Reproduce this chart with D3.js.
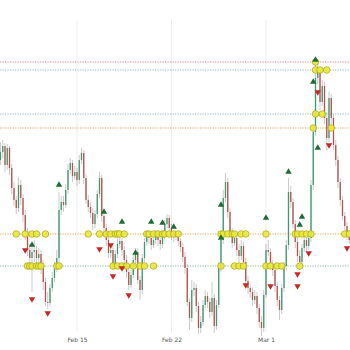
<!DOCTYPE html>
<html><head><meta charset="utf-8">
<script src="https://cdn.jsdelivr.net/npm/d3@7"></script>
<style>html,body{margin:0;padding:0;background:#fff;}svg{display:block;}</style>
</head><body>
<svg id="chart" width="350" height="350"></svg>
<script>
// ---- data ----
const barStart = new Date(2021, 1, 9, 8, 0);   // first 4h bar
const barHours = 4;
const openP = [240,248,254,235,252,232,212,200,192,215, 202,185,168,150,142,148,150,142,146,135,
  118,98,97,112,122,132,142,190,198,195, 210,230,237,224,228,220,240,247,222,200,
  193,187,176,186,206,222,184,172,160,147, 150,135,146,156,159,150,140,128,115,125,
  140,148,120,110,142,158,164,162,155,160, 167,160,156,164,176,182,172,164,163,164,
  159,153,143,132,98,82,110,112,94,72, 78,95,104,98,88,102,74,95,132,160,
  202,218,188,168,157,162,150,144,154,138, 119,112,108,100,104,92,78,72,105,150,
  148,136,130,114,100,90,112,134,155,208, 198,176,158,144,138,152,160,154,162,215,
  268,322,328,298,314,282,262,302,282,255, 240,218,200,184,174,164];
const highP = [258,260,257,256,254,236,218,204,223,220, 206,190,172,156,154,160,154,152,150,140,
  122,108,116,128,138,150,208,204,204,216, 236,242,240,234,232,245,252,250,226,205,
  198,192,190,210,228,225,186,176,164,156, 154,150,162,164,162,154,145,132,130,145,
  152,152,124,146,162,168,168,166,164,170, 170,164,168,180,186,185,176,168,168,167,
  162,157,148,136,102,120,118,116,98,84, 100,110,108,102,118,106,100,138,164,210,
  227,222,192,172,168,166,156,160,158,142, 124,116,112,110,108,96,84,110,156,160,
  152,140,134,118,104,116,138,160,222,214, 202,180,162,150,156,164,164,168,220,274,
  340,338,332,320,318,288,308,306,286,260, 244,222,204,188,178,170];
const lowP = [235,242,228,230,225,206,194,186,188,195, 178,160,144,134,108,138,132,136,126,110,
  94,91,94,108,118,128,138,185,188,192, 206,226,218,220,214,216,236,216,196,188,
  182,170,172,182,202,178,166,154,142,142, 130,132,142,152,144,134,122,110,112,122,
  136,116,100,106,138,154,156,150,152,156, 154,150,152,160,172,168,160,158,160,154,
  148,138,126,94,70,78,104,88,66,67, 74,92,92,82,84,67,70,92,128,156,
  198,182,162,152,154,144,138,140,132,114, 106,102,94,96,86,72,64,68,102,144,
  132,124,108,94,80,86,108,130,150,192, 172,152,138,130,134,148,148,150,158,210,
  264,316,290,294,276,250,258,276,250,234, 212,194,180,170,160,156];
const closeP = [248,254,235,252,232,212,200,192,215,202, 185,168,150,142,148,150,142,146,135,118,
  98,97,112,122,132,142,190,198,195,210, 230,237,224,228,220,240,247,222,200,193,
  187,176,186,206,222,184,172,160,147,150, 135,146,156,159,150,140,128,115,125,140,
  148,120,110,142,158,164,162,155,160,167, 160,156,164,176,182,172,164,163,164,159,
  153,143,132,98,82,110,112,94,72,78, 95,104,98,88,102,74,95,132,160,202,
  218,188,168,157,162,150,144,154,138,119, 112,108,100,104,92,78,72,105,150,148,
  136,130,114,100,90,112,134,155,208,198, 176,158,144,138,152,160,154,162,215,268,
  322,328,298,314,282,262,302,282,255,240, 218,200,184,174,164,160];

const levelPrices = [338, 330, 286, 272, 166, 134];
const levelColors = ["#e06666", "#6fa8dc", "#6fa8dc", "#e69138", "#e69138", "#6aa89a"];

// yellow level-touch circles: [bar index, price]
const touchBars = [140, 140,142,145, 140,143, 139,147,
  7,11,14,16,20,39,44,47,49,51,52,53,55,65,66,68,70,72,73,75,77,79,98,99,101,103,104,107,109,118,131,132,134,136,138,153,155,
  12,13,14,16,17,18,25,26,50,52,54,56,59,62,64,68,98,104,106,108,118,120,123,125,133];
const touchPrices = [338, 330,330,330, 286,286, 272,272,
  166,166,166,166,166,166,166,166,166,166,166,166,166,166,166,166,166,166,166,166,166,166,166,166,166,166,166,166,166,166,166,166,166,166,166,166,166,
  134,134,134,134,134,134,134,134,134,134,134,134,134,134,134,134,134,134,134,134,134,134,134,134,134];

const buyBars = [26,14,46,54,60,67,72,77,98,98,118,128,133,134,139,140,141];
const buyPrices = [215,155,188,178,147,178,177,173,195,162,182,228,175,183,318,340,252];
const sellBars = [11,14,21,44,49,50,54,57,109,120,132,132,137,141,146,154];
const sellPrices = [150,101,87,151,155,124,132,105,115,114,126,114,147,308,255,152];

const tickDates = [new Date(2021,1,15), new Date(2021,1,22), new Date(2021,2,1)];

// ---- chart ----
const W = 350, H = 350;
const svg = d3.select("#chart");
const x = d3.scaleTime()
  .domain([new Date(2021,1,9,7,7), new Date(2021,2,7,5,20)])
  .range([0, W]);
const y = d3.scaleLinear().domain([68, 380]).range([332, 20]);
const barTime = i => d3.timeHour.offset(barStart, barHours * i);

const bars = closeP.map((c, i) => ({t: barTime(i), o: openP[i], h: highP[i], l: lowP[i], c}));

// vertical grid
svg.append("g").selectAll("line").data(tickDates).join("line")
  .attr("x1", d => x(d)).attr("x2", d => x(d))
  .attr("y1", 20).attr("y2", 332)
  .attr("stroke", "#eeeeee").attr("stroke-width", 1);

// levels
svg.append("g").selectAll("line").data(levelPrices).join("line")
  .attr("x1", 0).attr("x2", W)
  .attr("y1", d => y(d)).attr("y2", d => y(d))
  .attr("stroke", (d, i) => levelColors[i])
  .attr("stroke-width", 1)
  .attr("stroke-dasharray", "1.2,1.3")
  .attr("opacity", 0.8);

// candles
const cg = svg.append("g");
cg.selectAll("line").data(bars).join("line")
  .attr("x1", d => x(d.t)).attr("x2", d => x(d.t))
  .attr("y1", d => y(d.h)).attr("y2", d => y(d.l))
  .attr("stroke", "#666").attr("stroke-opacity", 0.5).attr("stroke-width", 0.7);
cg.selectAll("rect").data(bars).join("rect")
  .attr("x", d => x(d.t) - 0.65).attr("width", 1.3)
  .attr("y", d => y(Math.max(d.o, d.c)))
  .attr("height", d => Math.max(0.8, Math.abs(y(d.o) - y(d.c))))
  .attr("fill", d => d.c >= d.o ? "#3d9970" : "#b5524a");

// yellow circles
svg.append("g").selectAll("circle").data(touchBars).join("circle")
  .attr("cx", (d) => x(barTime(d)))
  .attr("cy", (d, i) => y(touchPrices[i]))
  .attr("r", 3.3)
  .attr("fill", "#e8e83a").attr("fill-opacity", 0.9)
  .attr("stroke", "#a9a31c").attr("stroke-width", 0.7);

const tri = d3.symbol().type(d3.symbolTriangle).size(18);
svg.append("g").selectAll("path").data(buyBars).join("path")
  .attr("d", tri)
  .attr("transform", (d, i) => `translate(${x(barTime(d))},${y(buyPrices[i])})`)
  .attr("fill", "#1e6b36");
svg.append("g").selectAll("path").data(sellBars).join("path")
  .attr("d", tri)
  .attr("transform", (d, i) => `translate(${x(barTime(d))},${y(sellPrices[i])}) rotate(180)`)
  .attr("fill", "#c62828");

// x axis
const ax = svg.append("g").attr("transform", "translate(0,334)")
  .call(d3.axisBottom(x).tickValues(tickDates).tickFormat(d3.timeFormat("%b %-d")).tickSize(0));
ax.select(".domain").remove();
ax.selectAll("text").attr("font-family", "DejaVu Sans, sans-serif").attr("font-size", 6)
  .attr("fill", "#555").attr("dy", "0.9em");
</script>
</body></html>
